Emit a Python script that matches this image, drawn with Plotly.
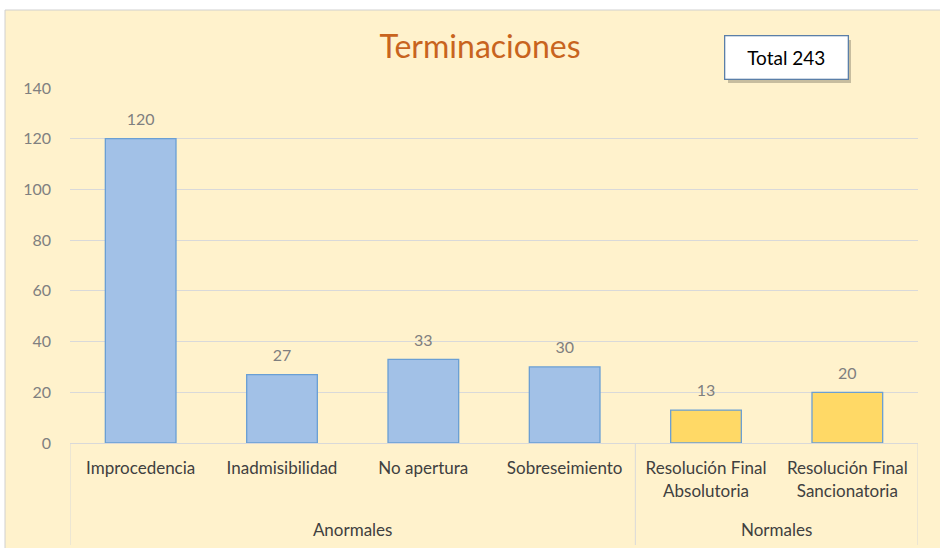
import plotly.graph_objects as go

groups = ["Anormales", "Anormales", "Anormales", "Anormales", "Normales", "Normales"]
categories = ["Improcedencia", "Inadmisibilidad", "No apertura", "Sobreseimiento",
              "Resolución Final<br>Absolutoria", "Resolución Final<br>Sancionatoria"]
values = [120, 27, 33, 30, 13, 20]
bar_colors = ["#A2C1E7", "#A2C1E7", "#A2C1E7", "#A2C1E7", "#FFD966", "#FFD966"]
total_label = "Total 243"
title_text = "Terminaciones"

# group spans derived from the category list
group_names = []
group_idx = {}
for i, g in enumerate(groups):
    if g not in group_idx:
        group_idx[g] = []
        group_names.append(g)
    group_idx[g].append(i)
group_centers = [(min(group_idx[g]) + max(group_idx[g])) / 2 for g in group_names]
boundaries = [min(group_idx[group_names[0]]) - 0.5] + [max(group_idx[g]) + 0.5 for g in group_names]

W, H = 940, 548
L, R, T, B = 70, 22, 88, 105
pw, ph = W - L - R, H - T - B

def px_x(x):
    return (x - L) / pw

def px_y(y):
    return (H - B - y) / ph

cream = "#FFF2CC"
font_fam = "Lato, 'Liberation Sans', sans-serif"

fig = go.Figure()
fig.add_trace(go.Bar(
    x=categories,
    y=values,
    marker=dict(color=bar_colors, line=dict(color="#6A9FD4", width=1.3)),
    width=0.5,
    hoverinfo="skip",
))
fig.add_trace(go.Scatter(
    x=categories,
    y=values,
    mode="markers+text",
    marker=dict(size=14, opacity=0),
    text=[str(v) for v in values],
    textposition="top center",
    textfont=dict(size=16, color="#7F7F7F", family=font_fam),
    cliponaxis=False,
    hoverinfo="skip",
))
fig.add_trace(go.Scatter(
    x=group_centers, y=[0] * len(group_centers), xaxis="x2", yaxis="y",
    mode="markers", marker=dict(size=1, opacity=0), hoverinfo="skip",
))

fig.update_layout(
    width=W, height=H,
    margin=dict(l=L, r=R, t=T, b=B, pad=0, autoexpand=False),
    paper_bgcolor=cream,
    plot_bgcolor=cream,
    showlegend=False,
    title=dict(text=title_text, x=480 / W, xanchor="center", y=1 - 47 / H, yanchor="middle",
               font=dict(size=32, color="#C8641E", family=font_fam)),
    font=dict(family=font_fam),
    bargap=0.5,
    xaxis=dict(type="category", showline=True, linecolor="#D9D9D9", linewidth=1,
               showgrid=False, ticks="", tickfont=dict(size=17, color="#404040", family=font_fam),
               ticklabelstandoff=10, range=[-0.5, len(categories) - 0.5], automargin=False),
    xaxis2=dict(overlaying="x", anchor="y", side="bottom", range=[-0.5, len(categories) - 0.5],
                tickvals=group_centers, ticktext=group_names, showgrid=False, showline=False,
                zeroline=False, ticks="", tickfont=dict(size=17, color="#404040", family=font_fam),
                ticklabelstandoff=75, automargin=False),
    yaxis=dict(range=[0, 140], dtick=20, showgrid=True, gridcolor="#D9D9D9", gridwidth=1,
               zeroline=False, showline=False, ticks="", automargin=False,
               tickfont=dict(size=16, color="#808080", family=font_fam), ticklabelstandoff=18),
)

# group dividers
for bx in boundaries:
    fig.add_shape(type="line", xref="x2", yref="paper", x0=bx, x1=bx, y0=0, y1=px_y(545),
                  line=dict(color="#D9D9D9", width=1), layer="above")

# outer white margin (top and left strips)
fig.add_shape(type="rect", xref="paper", yref="paper", x0=px_x(0), x1=px_x(W), y0=px_y(10), y1=px_y(-5),
              fillcolor="white", line=dict(width=0), layer="above")
fig.add_shape(type="rect", xref="paper", yref="paper", x0=px_x(-5), x1=px_x(5), y0=px_y(H + 5), y1=px_y(0),
              fillcolor="white", line=dict(width=0), layer="above")
fig.add_shape(type="line", xref="paper", yref="paper", x0=px_x(5), x1=px_x(W), y0=px_y(10), y1=px_y(10),
              line=dict(color="#D0D0D0", width=1), layer="above")
fig.add_shape(type="line", xref="paper", yref="paper", x0=px_x(5), x1=px_x(5), y0=px_y(10), y1=px_y(H),
              line=dict(color="#D0D0D0", width=1), layer="above")

# total box shadow
fig.add_shape(type="rect", xref="paper", yref="paper", x0=px_x(728), x1=px_x(851), y0=px_y(83), y1=px_y(40),
              fillcolor="rgba(0,0,0,0.22)", line=dict(width=0), layer="above")
# total box
fig.add_annotation(text=total_label, xref="paper", yref="paper",
                   x=px_x(786), y=px_y(58), xanchor="center", yanchor="middle", showarrow=False,
                   font=dict(size=19, color="#000000", family=font_fam),
                   bgcolor="white", bordercolor="#5B7FA8", borderwidth=1.3,
                   width=120, height=40)

fig.write_html("out.html", config={"displayModeBar": False},
               post_script="document.body.style.margin='0';")
